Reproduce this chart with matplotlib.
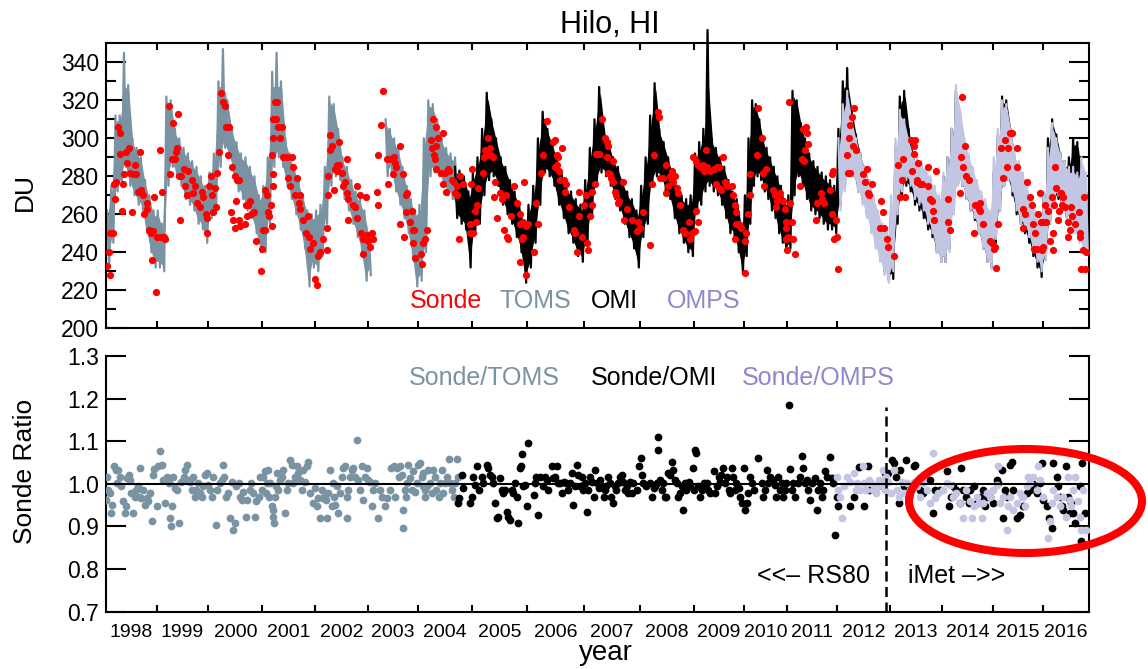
import numpy as np
import matplotlib
matplotlib.use("Agg")
import matplotlib.pyplot as plt
from matplotlib.patches import Ellipse

plt.rcParams['font.family'] = ['Liberation Sans', 'DejaVu Sans']

# ---------------- axis calibration (year boundaries -> relative axis position) ----
YEAR_EDGES = [1998, 1999, 2000, 2001, 2002, 2003, 2004, 2005, 2006, 2007, 2008,
              2009, 2010, 2011, 2012, 2013, 2014, 2015, 2016, 2016.92]
EDGE_POS = [106, 156.7, 208.3, 262.3, 315, 367.7, 418.3, 471.7, 527.3, 584, 640,
            694, 744, 787.3, 837.3, 890, 942.3, 992.7, 1042.7, 1089]
YEARS = list(range(1998, 2017))

# ---------------- satellite total column ozone (monthly high / low envelope) -----
nan = float('nan')
TOMS_START = 1998.0
toms_hi = [262, 275, 312, 312, 345, 328, 300, 295, 290, 278, 270, 262,
           262, 255, 322, 320, 305, 300, 295, 292, 288, 285, 280, 275,
           282, 292, 330, 347, 320, 305, 298, 292, 290, 285, 280, 270,
           275, 290, 335, 345, 330, 300, 292, 285, 278, 270, 262, 260,
           262, 265, 285, 322, 318, 305, 290, 285, 278, 272, 268, 262,
           250, nan, nan, nan, 310, 305, 300, 295, 285, 275, 268, 262,
           265, 300, 320, 318, 310, 300, 295, 292, 290]
toms_lo = [232, 245, 272, 275, 285, 275, 270, 265, 262, 250, 240, 232,
           232, 230, 275, 285, 280, 275, 268, 265, 262, 255, 252, 245,
           258, 262, 285, 295, 290, 282, 272, 268, 262, 258, 250, 240,
           240, 255, 285, 290, 285, 275, 268, 260, 252, 242, 222, 232,
           230, 238, 255, 275, 280, 278, 268, 262, 255, 248, 240, 225,
           228, nan, nan, nan, 280, 282, 272, 265, 258, 250, 238, 222,
           225, 240, 280, 282, 280, 275, 270, 268, 262]

OMI_START = 2004 + 8 / 12
omi_hi = [285, 283, 280, 272,
          282, 290, 305, 324, 310, 300, 290, 285, 278, 272, 265, 255,
          265, 275, 300, 314, 305, 298, 290, 282, 275, 272, 268, 265,
          278, 295, 310, 327, 305, 298, 290, 285, 278, 272, 268, 262,
          275, 290, 312, 329, 305, 298, 290, 282, 275, 270, 268, 270,
          292, 298, 305, 357, 300, 295, 290, 285, 278, 272, 268, 255,
          270, 300, 320, 318, 310, 300, 295, 290, 285, 280, 275, 268,
          270, 325, 320, 308, 300, 292, 288, 285, 282, 280, 278, 275,
          305, 330, 337, 315, 302, 292, 285, 278, 268, 260, 252, 250,
          262, 295, 322, 325, 305, 292, 288, 286, 282, 278, 272, 268,
          280, 290, 305, 325, 312, 298, 290, 284, 276, 270, 265, 258,
          282, 302, 322, 320, 305, 290, 282, 276, 270, 266, 260, 255,
          270, 300, 310, 302, 292, 288, 290, 300, 298, 280, 275]
omi_lo = [258, 255, 252, 232,
          250, 255, 270, 278, 280, 275, 265, 260, 255, 248, 240, 224,
          232, 245, 265, 282, 280, 275, 265, 258, 250, 245, 238, 235,
          245, 260, 275, 282, 280, 275, 268, 262, 255, 248, 242, 232,
          248, 255, 275, 280, 278, 272, 268, 258, 250, 245, 240, 238,
          262, 265, 272, 275, 272, 270, 265, 258, 250, 248, 240, 229,
          238, 255, 275, 280, 278, 272, 268, 262, 258, 250, 245, 240,
          242, 270, 280, 275, 268, 262, 260, 258, 255, 252, 252, 250,
          265, 275, 282, 280, 272, 268, 260, 252, 245, 238, 230, 225,
          226, 255, 270, 275, 272, 265, 262, 258, 252, 248, 240, 235,
          235, 242, 262, 276, 275, 268, 262, 257, 250, 242, 235, 232,
          245, 262, 275, 278, 270, 260, 255, 250, 245, 238, 232, 227,
          236, 255, 265, 268, 262, 258, 255, 255, 250, 245, 245]

OMPS_START = 2012.0
omps_hi = [300, 318, 325, 310, 300, 292, 285, 278, 270, 262, 255, 252,
           270, 300, 315, 310, 300, 292, 290, 288, 285, 280, 275, 270,
           282, 290, 305, 328, 315, 300, 292, 285, 278, 272, 268, 262,
           290, 305, 320, 318, 305, 292, 288, 282, 275, 268, 262, 258,
           272, 295, 308, 300, 292, 288, 285, 285, 282, 290, 282]
omps_lo = [262, 272, 280, 280, 272, 265, 258, 250, 242, 235, 228, 224,
           230, 260, 272, 278, 275, 268, 265, 262, 255, 250, 240, 235,
           235, 240, 260, 275, 275, 268, 262, 258, 250, 242, 235, 231,
           247, 262, 275, 278, 272, 262, 255, 252, 248, 240, 235, 230,
           236, 255, 265, 270, 262, 258, 255, 250, 245, 240, 240]

# ---------------- ozonesonde total column (year, DU) ------------------------------
sonde_points = [
    (1998.01, 233), (1998.08, 228), (1998.05, 240), (1998.07, 250), (1998.13, 250), (1998.17, 268),
    (1998.15, 276), (1998.20, 277), (1998.23, 306), (1998.27, 303), (1998.28, 292), (1998.32, 262),
    (1998.33, 276), (1998.35, 281), (1998.39, 293), (1998.41, 287), (1998.45, 295), (1998.48, 282),
    (1998.52, 261), (1998.53, 281), (1998.57, 286), (1998.60, 281), (1998.63, 272), (1998.68, 293),
    (1998.70, 273), (1998.73, 270), (1998.75, 260), (1998.80, 266), (1998.81, 263), (1998.85, 252),
    (1998.88, 250), (1998.90, 236), (1998.92, 251), (1998.95, 269), (1998.99, 219), (1999.00, 248),
    (1999.06, 294), (1999.08, 248), (1999.10, 272), (1999.14, 248), (1999.16, 247), (1999.23, 317),
    (1999.26, 281), (1999.29, 289), (1999.31, 308), (1999.35, 289), (1999.37, 293), (1999.39, 295),
    (1999.42, 313), (1999.44, 280), (1999.45, 257), (1999.48, 280), (1999.53, 284), (1999.55, 275),
    (1999.58, 270), (1999.61, 283), (1999.69, 278), (1999.71, 271), (1999.74, 275), (1999.79, 266),
    (1999.84, 264), (1999.87, 272), (1999.90, 269), (1999.95, 260), (1999.97, 250), (1999.98, 258),
    (2000.02, 275), (2000.05, 280), (2000.07, 270), (2000.09, 261), (2000.12, 274), (2000.14, 264),
    (2000.17, 282), (2000.19, 293), (2000.23, 324), (2000.27, 319), (2000.31, 317), (2000.33, 306),
    (2000.39, 306), (2000.37, 291), (2000.44, 285), (2000.49, 280), (2000.53, 278), (2000.56, 278),
    (2000.51, 267), (2000.42, 261), (2000.46, 257), (2000.49, 253), (2000.57, 257), (2000.59, 254),
    (2000.68, 255), (2000.71, 259), (2000.70, 265), (2000.74, 265), (2000.77, 267), (2000.80, 260),
    (2000.85, 261), (2000.89, 246), (2000.99, 242), (2000.97, 230),
    (2001.02, 252), (2001.05, 252), (2001.05, 273), (2001.08, 270), (2001.11, 261), (2001.13, 259),
    (2001.16, 265), (2001.18, 254), (2001.18, 291), (2001.20, 281), (2001.21, 275), (2001.20, 300),
    (2001.21, 310), (2001.24, 319), (2001.26, 310), (2001.27, 319), (2001.30, 306), (2001.34, 300),
    (2001.37, 306), (2001.40, 290), (2001.47, 290), (2001.56, 290), (2001.48, 279), (2001.52, 275),
    (2001.58, 285), (2001.65, 279), (2001.62, 270), (2001.70, 266), (2001.72, 263), (2001.71, 270),
    (2001.78, 257), (2001.83, 250), (2001.87, 259), (2001.89, 248), (2001.91, 242), (2001.97, 245),
    (2002.00, 226), (2002.03, 223),
    (2002.06, 238), (2002.09, 240), (2002.15, 247), (2002.23, 241), (2002.22, 253), (2002.25, 270),
    (2002.25, 280), (2002.28, 294), (2002.28, 302), (2002.32, 296), (2002.36, 273), (2002.38, 284),
    (2002.41, 286), (2002.42, 283), (2002.46, 298), (2002.46, 286), (2002.51, 282), (2002.54, 275),
    (2002.57, 277), (2002.60, 271), (2002.60, 289), (2002.62, 268), (2002.63, 257), (2002.73, 265),
    (2002.76, 264), (2002.79, 258), (2002.80, 275), (2002.85, 270), (2002.87, 250), (2002.92, 247),
    (2002.92, 239), (2002.96, 269), (2002.98, 249), (2003.01, 246), (2003.08, 250), (2003.10, 247),
    (2003.05, 243),
    (2003.18, 272), (2003.21, 265), (2003.20, 291), (2003.26, 307), (2003.30, 325), (2003.39, 289),
    (2003.41, 276), (2003.46, 289), (2003.51, 290), (2003.50, 281), (2003.54, 287), (2003.56, 285),
    (2003.63, 296), (2003.64, 255), (2003.70, 281), (2003.72, 248), (2003.76, 270), (2003.78, 271),
    (2003.76, 261), (2003.84, 256), (2003.87, 262), (2003.89, 252), (2003.92, 252), (2003.90, 245),
    (2003.93, 237),
    (2004.05, 239), (2004.06, 234), (2004.09, 245), (2004.13, 247), (2004.16, 252), (2004.23, 299),
    (2004.25, 295), (2004.28, 310), (2004.29, 291), (2004.31, 289), (2004.33, 306), (2004.33, 296),
    (2004.34, 284), (2004.37, 300), (2004.42, 282), (2004.46, 303), (2004.46, 276), (2004.50, 282),
    (2004.52, 272), (2004.55, 284), (2004.58, 283), (2004.63, 278), (2004.66, 277), (2004.69, 271),
    (2004.72, 270), (2004.73, 275), (2004.77, 247), (2004.79, 280), (2004.83, 276), (2004.96, 255),
    (2004.97, 250), (2004.98, 276), (2005.00, 284),
    (2005.03, 250), (2005.06, 262), (2005.08, 256), (2005.10, 265), (2005.12, 274), (2005.20, 282),
    (2005.22, 290), (2005.24, 294), (2005.27, 291), (2005.30, 300), (2005.33, 295), (2005.34, 291),
    (2005.38, 290), (2005.42, 277), (2005.40, 269), (2005.46, 258), (2005.50, 271), (2005.54, 268),
    (2005.58, 252), (2005.62, 270), (2005.63, 248), (2005.66, 247), (2005.70, 259), (2005.76, 275),
    (2005.82, 266), (2005.86, 260), (2005.87, 255), (2005.93, 256), (2005.92, 248), (2005.90, 247),
    (2005.94, 277), (2005.98, 254), (2006.01, 255), (2005.87, 235), (2005.98, 228), (2006.11, 240),
    (2006.16, 266), (2006.19, 255), (2006.25, 282), (2006.27, 291), (2006.34, 309), (2006.45, 298),
    (2006.49, 299), (2006.52, 291), (2006.53, 286), (2006.49, 285), (2006.55, 290), (2006.56, 283),
    (2006.58, 278), (2006.61, 295), (2006.64, 278), (2006.66, 272), (2006.69, 276), (2006.74, 264),
    (2006.82, 252), (2006.84, 250), (2006.87, 240), (2006.91, 272), (2006.92, 259), (2006.96, 248),
    (2007.00, 265), (2007.04, 270), (2007.08, 241), (2007.06, 245),
    (2007.11, 259), (2007.14, 272), (2007.15, 265), (2007.20, 276), (2007.21, 292), (2007.26, 292),
    (2007.27, 292), (2007.32, 310), (2007.38, 300), (2007.41, 298), (2007.43, 296), (2007.41, 290),
    (2007.43, 282), (2007.46, 281), (2007.51, 288), (2007.49, 279), (2007.55, 272), (2007.52, 277),
    (2007.58, 270), (2007.60, 266), (2007.63, 267), (2007.69, 277), (2007.76, 263), (2007.71, 257),
    (2007.85, 257), (2007.94, 251), (2007.97, 256), (2008.00, 253), (2008.05, 261), (2008.18, 244),
    (2008.22, 276), (2008.26, 291), (2008.34, 314), (2008.36, 311), (2008.37, 279), (2008.43, 279),
    (2008.48, 286), (2008.49, 271), (2008.52, 275), (2008.56, 280), (2008.59, 278), (2008.62, 277),
    (2008.65, 280), (2008.60, 283), (2008.68, 274), (2008.71, 271), (2008.74, 265), (2008.80, 252),
    (2008.83, 250), (2008.91, 256), (2008.93, 247), (2008.96, 250), (2009.02, 251), (2009.05, 262),
    (2009.08, 256), (2008.99, 290),
    (2009.04, 288), (2009.09, 286), (2009.12, 285), (2009.17, 286), (2009.20, 283), (2009.24, 294),
    (2009.27, 285), (2009.32, 283), (2009.40, 284), (2009.45, 285), (2009.49, 285), (2009.44, 276),
    (2009.51, 274), (2009.55, 273), (2009.59, 290), (2009.62, 277), (2009.65, 275), (2009.75, 275),
    (2009.79, 270), (2009.82, 265), (2009.84, 261), (2009.85, 255), (2009.89, 255), (2009.91, 254),
    (2009.93, 253), (2009.82, 247), (2010.02, 246), (2010.04, 250), (2010.02, 229), (2010.09, 260),
    (2010.15, 270), (2010.15, 281), (2010.31, 291), (2010.33, 316),
    (2010.41, 300), (2010.45, 282), (2010.46, 275), (2010.51, 284), (2010.68, 273), (2010.72, 270),
    (2010.74, 264), (2010.77, 267), (2010.82, 268), (2010.83, 271), (2010.91, 267), (2010.95, 263),
    (2010.97, 256), (2010.98, 253), (2011.02, 248), (2011.05, 266), (2011.09, 256), (2010.98, 247),
    (2011.00, 241), (2011.04, 319), (2011.11, 247), (2011.15, 239),
    (2011.25, 275), (2011.29, 289), (2011.33, 288), (2011.35, 294), (2011.32, 305), (2011.37, 306),
    (2011.40, 303), (2011.42, 297), (2011.59, 266), (2011.67, 271), (2011.69, 268), (2011.73, 266),
    (2011.85, 273), (2011.89, 281), (2011.91, 283), (2011.89, 260), (2011.57, 257), (2011.97, 257),
    (2011.93, 247), (2011.99, 248), (2012.02, 231),
    (2012.18, 291), (2012.21, 282), (2012.23, 300), (2012.25, 307), (2012.27, 311), (2012.32, 316),
    (2012.29, 296), (2012.35, 294), (2012.24, 282), (2012.49, 281), (2012.53, 277), (2012.56, 284),
    (2012.58, 271), (2012.61, 270), (2012.65, 276), (2012.83, 267), (2012.86, 261), (2012.81, 253),
    (2012.89, 253), (2012.94, 247), (2012.96, 243), (2013.08, 238),
    (2013.16, 286), (2013.19, 269), (2013.22, 278), (2013.24, 289), (2013.29, 269), (2013.41, 299),
    (2013.45, 296), (2013.48, 299), (2013.46, 292), (2013.43, 283), (2013.51, 278), (2013.54, 287),
    (2013.52, 277), (2013.57, 276), (2013.62, 276), (2013.73, 285), (2013.73, 275), (2013.76, 268),
    (2013.80, 267), (2013.82, 262), (2013.84, 257), (2013.87, 283), (2014.12, 268), (2014.12, 256),
    (2014.15, 252),
    (2014.35, 271), (2014.37, 290), (2014.40, 322), (2014.42, 285), (2014.45, 296), (2014.48, 280),
    (2014.52, 278), (2014.65, 265), (2014.68, 265), (2014.72, 263), (2014.75, 262), (2014.74, 266),
    (2014.80, 255), (2014.63, 250), (2014.95, 246), (2014.98, 245), (2015.05, 243), (2015.03, 242),
    (2015.07, 232), (2015.11, 255),
    (2015.16, 295), (2015.21, 279), (2015.25, 299), (2015.28, 285), (2015.31, 295), (2015.35, 303),
    (2015.38, 303), (2015.48, 295), (2015.49, 285), (2015.69, 277), (2015.75, 269), (2015.78, 265),
    (2015.60, 263), (2015.65, 260), (2015.61, 253), (2015.80, 255), (2015.85, 250), (2015.83, 242),
    (2015.89, 242), (2015.91, 260), (2015.95, 271), (2015.96, 256), (2015.98, 241), (2016.00, 256),
    (2016.01, 243),
    (2016.05, 265), (2016.07, 256), (2016.11, 262), (2016.14, 246), (2016.18, 269), (2016.20, 241),
    (2016.21, 250), (2016.22, 265), (2016.24, 285), (2016.26, 274), (2016.30, 257), (2016.33, 262),
    (2016.37, 271), (2016.39, 265), (2016.41, 269), (2016.44, 264), (2016.50, 256), (2016.50, 248),
    (2016.55, 252), (2016.57, 264), (2016.59, 259), (2016.64, 255), (2016.72, 261), (2016.74, 250),
    (2016.75, 248), (2016.80, 241), (2016.82, 269), (2016.77, 231), (2016.84, 231), (2016.87, 240),
]

# ---------------- sonde / satellite ratios (year, ratio) -------------------------
ratio_toms = [
    (1998.00, .962), (1998.01, 1.017), (1998.03, .986), (1998.07, .978), (1998.10, .931), (1998.12, .951),
    (1998.15, 1.041), (1998.19, 1.033), (1998.23, 1.033), (1998.21, 1.002), (1998.27, 1.017), (1998.30, .994),
    (1998.33, .959), (1998.37, .931), (1998.39, .947), (1998.41, 1.013), (1998.45, 1.021), (1998.48, 1.009),
    (1998.50, .978), (1998.53, .931), (1998.57, .970), (1998.60, .986), (1998.63, .994), (1998.67, 1.037),
    (1998.65, .970), (1998.70, .966), (1998.73, .986), (1998.77, .951), (1998.80, .966), (1998.83, .959),
    (1998.87, .978), (1998.90, .912), (1998.92, 1.021), (1998.95, 1.034), (1999.00, .947),
    (1999.03, 1.041), (1999.06, 1.076), (1999.10, 1.045), (1999.13, 1.009), (1999.16, .955), (1999.19, 1.017),
    (1999.23, 1.002), (1999.26, .919), (1999.27, .900), (1999.29, .947), (1999.32, 1.017), (1999.35, .990),
    (1999.39, .986), (1999.44, .908), (1999.48, 1.005), (1999.52, 1.017), (1999.55, 1.033), (1999.59, 1.045),
    (1999.61, 1.009), (1999.65, 1.005), (1999.68, .986), (1999.71, 1.017), (1999.74, .970), (1999.77, .986),
    (1999.81, 1.002), (1999.84, .978), (1999.87, .970), (1999.90, .994), (1999.94, 1.021), (1999.97, 1.025),
    (2000.00, .998), (2000.03, .986), (2000.06, .970), (2000.09, 1.017), (2000.14, .904), (2000.17, .986),
    (2000.22, 1.002), (2000.25, 1.009), (2000.28, 1.045), (2000.29, 1.017), (2000.33, .970), (2000.37, .978),
    (2000.40, .919), (2000.43, 1.005), (2000.46, .892), (2000.49, .908), (2000.52, .994), (2000.56, 1.002),
    (2000.59, .970), (2000.62, .962), (2000.65, .982), (2000.70, .923), (2000.72, .962), (2000.77, .986),
    (2000.80, 1.002), (2000.83, .978), (2000.86, .923), (2000.89, .959), (2000.93, .970), (2000.96, 1.017),
    (2000.99, .986),
    (2001.02, 1.017), (2001.05, 1.029), (2001.07, .978), (2001.08, 1.002), (2001.11, 1.033), (2001.13, .970),
    (2001.15, 1.002), (2001.18, .947), (2001.20, .939), (2001.21, .923), (2001.22, .908), (2001.24, .970),
    (2001.26, .994), (2001.27, 1.025), (2001.30, .986), (2001.34, 1.009), (2001.37, 1.017), (2001.40, 1.033),
    (2001.43, .931), (2001.46, .986), (2001.49, 1.002), (2001.53, 1.056), (2001.56, 1.045), (2001.59, 1.002),
    (2001.62, 1.017), (2001.65, 1.041), (2001.68, 1.025), (2001.72, 1.009), (2001.75, .986), (2001.78, 1.033),
    (2001.81, 1.005), (2001.84, 1.041), (2001.87, 1.052), (2001.91, .978), (2001.97, .955),
    (2002.00, .990), (2002.03, .947), (2002.06, .966), (2002.09, .919), (2002.13, .986), (2002.15, .966),
    (2002.17, .970), (2002.21, .962), (2002.22, .919), (2002.25, .978), (2002.28, 1.033), (2002.32, .947),
    (2002.35, 1.002), (2002.36, .970), (2002.38, .951), (2002.41, .994), (2002.44, .931), (2002.47, .978),
    (2002.51, 1.017), (2002.54, 1.037), (2002.57, 1.041), (2002.60, .919), (2002.61, .970), (2002.63, .986),
    (2002.66, 1.017), (2002.70, 1.033), (2002.73, 1.037), (2002.76, 1.017), (2002.79, 1.102), (2002.82, 1.009),
    (2002.85, .986), (2002.89, 1.041), (2002.92, .962), (2002.95, 1.017), (2002.98, 1.037),
    (2003.01, 1.009), (2003.05, 1.005), (2003.08, .947), (2003.11, .986), (2003.14, 1.002), (2003.21, .919),
    (2003.24, .986), (2003.28, .970), (2003.34, .947), (2003.38, .966), (2003.44, .986), (2003.47, 1.037),
    (2003.51, 1.041), (2003.54, .970), (2003.57, 1.037), (2003.61, 1.017), (2003.64, 1.041), (2003.67, 1.021),
    (2003.69, .939), (2003.70, .896), (2003.74, .986), (2003.76, .970), (2003.77, 1.002), (2003.80, 1.045),
    (2003.84, 1.013), (2003.87, .986), (2003.90, 1.029), (2003.93, .982), (2003.97, 1.002), (2004.00, 1.045),
    (2004.03, 1.049), (2004.06, 1.017), (2004.09, .994), (2004.13, .986),
    (2004.09, 1.025), (2004.13, .970), (2004.16, .994), (2004.19, 1.033), (2004.22, 1.002), (2004.25, .978),
    (2004.28, 1.033), (2004.31, 1.017), (2004.34, .986), (2004.38, .970), (2004.41, 1.002), (2004.44, 1.033),
    (2004.47, .978), (2004.50, 1.002), (2004.53, 1.017), (2004.58, 1.058), (2004.59, 1.002), (2004.63, .986),
    (2004.66, .970), (2004.69, 1.002), (2004.73, 1.058), (2004.75, 1.017),
]

ratio_omi = [
    (2004.75, .955), (2004.77, .966), (2004.81, 1.021), (2004.84, .990), (2004.96, .955), (2005.00, .970),
    (2005.03, 1.017), (2005.06, .998), (2005.09, 1.041), (2005.14, .986), (2005.18, 1.017), (2005.21, 1.002),
    (2005.27, 1.045), (2005.30, 1.037), (2005.33, 1.021), (2005.36, 1.017), (2005.39, 1.002), (2005.42, .955),
    (2005.45, .919), (2005.48, .923), (2005.51, 1.013), (2005.54, .986), (2005.57, .978), (2005.60, .986),
    (2005.63, .935), (2005.66, .923), (2005.69, .915), (2005.72, .986), (2005.75, .978), (2005.78, 1.002),
    (2005.81, .970), (2005.84, .908), (2005.86, 1.037), (2005.88, 1.041), (2005.90, 1.070), (2005.93, .994),
    (2005.96, .998), (2005.99, .947), (2006.02, 1.095), (2006.11, .974), (2006.14, 1.002), (2006.16, 1.017),
    (2006.19, .927), (2006.22, 1.017), (2006.28, .994), (2006.31, 1.017), (2006.34, 1.009), (2006.37, .986),
    (2006.43, 1.041), (2006.46, 1.013), (2006.49, 1.017), (2006.52, 1.041), (2006.55, 1.002), (2006.58, 1.002),
    (2006.61, .978), (2006.64, 1.005), (2006.69, 1.002), (2006.72, .986), (2006.75, 1.002), (2006.78, 1.025),
    (2006.81, .951), (2006.84, .994), (2006.87, 1.045), (2006.90, 1.021), (2006.93, .994), (2006.96, 1.017),
    (2006.99, .986), (2007.02, 1.002), (2007.05, .935), (2007.08, .986), (2007.11, 1.017), (2007.14, 1.005),
    (2007.17, .970), (2007.20, 1.033), (2007.23, 1.002), (2007.26, .990), (2007.29, 1.009), (2007.32, .994),
    (2007.35, .970), (2007.38, .986), (2007.40, .994), (2007.43, 1.017), (2007.46, 1.002), (2007.49, .970),
    (2007.52, .955), (2007.55, .994), (2007.58, .986), (2007.61, 1.002), (2007.64, 1.017), (2007.67, 1.021),
    (2007.70, 1.005), (2007.73, .986), (2007.76, .994), (2007.79, .978), (2007.82, 1.005), (2007.85, .978),
    (2007.88, 1.002), (2007.94, .986), (2007.99, 1.041), (2008.01, 1.060), (2008.03, 1.021), (2008.06, 1.002),
    (2008.12, .994), (2008.19, 1.002), (2008.22, .970), (2008.25, .990), (2008.28, .994), (2008.31, 1.002),
    (2008.34, 1.110), (2008.34, 1.080), (2008.37, 1.009), (2008.40, .986), (2008.43, 1.002), (2008.46, .970),
    (2008.49, .970), (2008.52, 1.025), (2008.56, 1.021), (2008.59, 1.052), (2008.62, 1.033), (2008.65, 1.009),
    (2008.68, 1.002), (2008.71, .970), (2008.74, .978), (2008.77, .994), (2008.80, .939), (2008.83, 1.002),
    (2008.86, .986), (2008.90, 1.005), (2008.93, .994), (2008.98, 1.037), (2009.00, .986), (2009.02, 1.080),
    (2009.04, 1.072), (2009.09, .994), (2009.12, .970), (2009.15, .986), (2009.19, 1.002), (2009.22, .994),
    (2009.25, 1.002), (2009.29, .986), (2009.32, .978), (2009.39, 1.029), (2009.42, .978), (2009.45, .994),
    (2009.49, 1.017), (2009.52, 1.005), (2009.55, 1.021), (2009.59, 1.037), (2009.62, 1.002), (2009.65, 1.017),
    (2009.69, .986), (2009.72, .978), (2009.75, 1.037), (2009.79, 1.017), (2009.82, .986), (2009.85, 1.002),
    (2009.89, .990), (2009.92, .970), (2009.95, .955), (2009.99, 1.037), (2010.02, .939), (2010.06, .955),
    (2010.10, .978), (2010.14, 1.017), (2010.18, 1.002), (2010.22, .986), (2010.33, 1.060),
    (2010.41, 1.002), (2010.45, .970), (2010.48, .986), (2010.52, 1.033), (2010.56, 1.002), (2010.60, 1.017),
    (2010.68, 1.009), (2010.71, .998), (2010.75, .970), (2010.79, 1.017), (2010.83, .986), (2010.87, 1.002),
    (2010.91, .970), (2010.95, .986), (2010.98, 1.002), (2011.04, 1.185), (2011.05, 1.034), (2011.09, .986),
    (2011.12, 1.002), (2011.15, .970), (2011.22, 1.002), (2011.25, 1.017), (2011.29, 1.066), (2011.32, 1.037),
    (2011.35, 1.002), (2011.39, 1.009), (2011.42, .986), (2011.45, .962), (2011.49, 1.002), (2011.55, 1.013),
    (2011.59, .939), (2011.62, .986), (2011.65, 1.002), (2011.69, .970), (2011.72, .986), (2011.75, 1.029),
    (2011.79, 1.017), (2011.85, 1.064), (2011.89, 1.013), (2011.92, 1.002), (2011.95, .880), (2011.99, .970),
    (2012.02, .947), (2012.25, .948), (2012.31, .970), (2012.41, 1.039), (2012.51, .947), (2012.58, 1.041),
    (2012.61, .986), (2012.77, .994), (2012.84, 1.005), (2012.90, 1.025), (2012.96, 1.025), (2013.04, 1.056),
    (2013.08, 1.049), (2013.11, 1.017), (2013.17, .955), (2013.20, 1.033), (2013.26, .994), (2013.30, 1.056),
    (2013.33, .994), (2013.36, .970), (2013.39, .986), (2013.45, 1.041), (2013.48, 1.045), (2013.58, .986),
    (2013.64, .978), (2013.82, .931), (2013.86, .986), (2014.09, 1.029), (2014.14, .948), (2014.18, .970),
    (2014.35, .955), (2014.38, 1.037), (2014.42, .986), (2014.52, .955), (2014.55, .986), (2014.68, .955),
    (2014.75, .970), (2014.85, .947), (2014.95, .970), (2015.08, 1.009), (2015.11, 1.002), (2015.18, 1.033),
    (2015.21, .919), (2015.35, 1.045), (2015.38, 1.052), (2015.48, .919), (2015.55, .927), (2015.61, .947),
    (2015.75, .986), (2015.81, .994), (2015.88, .978), (2015.98, 1.049), (2016.08, .947), (2016.18, .896),
    (2016.21, 1.049), (2016.31, .994), (2016.38, .947), (2016.41, .939), (2016.47, 1.041), (2016.54, .931),
    (2016.61, .931), (2016.64, .908), (2016.74, .994), (2016.77, .865), (2016.79, 1.049), (2016.84, .931),
    (2013.52, 1.002), (2013.77, 1.009), (2013.96, .986), (2014.22, .994), (2014.28, .986), (2014.48, .970),
    (2014.62, .994), (2014.81, .986), (2014.88, .970), (2015.01, .955), (2015.25, .986), (2015.28, .970),
    (2015.41, .986), (2015.68, .978), (2015.78, 1.002), (2015.95, 1.002), (2016.01, .962), (2016.13, .919),
    (2016.28, 1.017), (2016.34, .970), (2016.51, .970), (2016.57, .955),
]

ratio_omps = [
    (2011.99, 1.017), (2012.02, .986), (2012.05, .970), (2012.08, .919), (2012.12, .994), (2012.18, 1.017),
    (2012.25, 1.005), (2012.31, 1.025), (2012.35, .986), (2012.38, 1.002), (2012.44, .986), (2012.48, 1.041),
    (2012.51, 1.002), (2012.54, .986), (2012.61, 1.009), (2012.64, 1.002), (2012.67, .986), (2012.74, .978),
    (2012.80, 1.009), (2012.87, 1.033), (2012.93, 1.017), (2012.96, 1.005), (2013.01, .978), (2013.14, .986),
    (2013.23, 1.005), (2013.26, .978), (2013.33, 1.002), (2013.45, 1.005), (2013.52, .994), (2013.58, .970),
    (2013.70, .986), (2013.77, .955), (2013.83, 1.072), (2013.92, .978), (2014.02, .986), (2014.15, .998),
    (2014.22, .970), (2014.28, .978), (2014.42, .919), (2014.48, .986), (2014.58, .919), (2014.62, .947),
    (2014.72, .955), (2014.78, .919), (2014.81, .955), (2014.88, .978), (2015.01, .986), (2015.11, 1.041),
    (2015.15, .955), (2015.28, .892), (2015.31, .947), (2015.41, .939), (2015.48, .955), (2015.58, .970),
    (2015.65, .947), (2015.71, 1.017), (2015.81, 1.017), (2015.91, 1.041), (2016.01, .970), (2016.11, .872),
    (2016.14, .912), (2016.28, .970), (2016.34, .947), (2016.51, 1.017), (2016.57, .947), (2016.64, 1.017),
    (2016.74, .923), (2016.77, .892), (2016.80, .986), (2016.86, .892),
    (2012.77, .994), (2012.84, 1.002), (2012.90, .986), (2013.08, 1.033), (2013.17, .970), (2013.39, .986),
    (2013.64, 1.002), (2013.86, .966), (2014.09, 1.002), (2014.35, .955), (2014.55, .959), (2014.68, .970),
    (2014.95, .970), (2015.08, .998), (2015.21, .970), (2015.35, .970), (2015.55, .978), (2015.61, .970),
    (2015.68, .994), (2015.75, 1.002), (2015.88, .986), (2015.95, 1.009), (2016.18, .955), (2016.21, .986),
    (2016.41, .970), (2016.47, .923), (2016.54, .962), (2016.61, .986), (2016.71, .959),
]

# ---------------- colours ----------------------------------------------------------
C_SONDE = '#ff0000'
C_TOMS = '#7a93a3'
C_OMI = '#000000'
C_OMPS = '#c3c6e2'
C_OMPS_TEXT = '#8d88cb'

W, H = 1148, 669


def fx(px):
    return px / W


def fy(py):
    return 1 - py / H


def fwd(x):
    return np.interp(np.asarray(x, dtype=float), YEAR_EDGES, EDGE_POS)


def inv(p):
    return np.interp(np.asarray(p, dtype=float), EDGE_POS, YEAR_EDGES)


def zigzag(start, hi, lo):
    xs, ys = [], []
    for i in range(len(hi)):
        xs += [start + (i + 0.25) / 12, start + (i + 0.75) / 12]
        ys += [hi[i], lo[i]]
    return np.array(xs), np.array(ys)


def draw_sat(ax, start, hi, lo, color, z, clip=True):
    hi = np.asarray(hi, dtype=float)
    lo = np.asarray(lo, dtype=float)
    xc = start + (np.arange(len(hi)) + 0.5) / 12
    band_top = np.minimum(hi, 330)
    ax.fill_between(xc, lo + 3, band_top - 3, color=color, lw=0, zorder=z)
    x, y = zigzag(start, hi, lo)
    ax.plot(x, y, color=color, lw=1.6, zorder=z, clip_on=clip)


fig = plt.figure(figsize=(W / 100, H / 100), dpi=100)
ax1 = fig.add_axes([fx(106), fy(328.3), (1089 - 106) / W, (328.3 - 43.3) / H])
ax2 = fig.add_axes([fx(106), fy(611.7), (1089 - 106) / W, (611.7 - 356) / H])

for ax in (ax1, ax2):
    ax.set_xscale('function', functions=(fwd, inv))
    ax.set_xlim(YEAR_EDGES[0], YEAR_EDGES[-1])
    for s in ax.spines.values():
        s.set_linewidth(1.5)

# ---------------- top panel ------------------------------------------------------
draw_sat(ax1, TOMS_START, toms_hi, toms_lo, C_TOMS, 2)
draw_sat(ax1, OMI_START, omi_hi, omi_lo, C_OMI, 3, clip=False)
draw_sat(ax1, OMPS_START, omps_hi, omps_lo, C_OMPS, 4)
sy, sv = zip(*sonde_points)
ax1.plot(sy, sv, 'o', color=C_SONDE, ms=5.2, mec='none', zorder=5)

ax1.set_ylim(200, 350)
ax1.set_yticks(np.arange(200, 341, 20))
ax1.set_yticks(np.arange(210, 341, 20), minor=True)
ax1.tick_params(axis='y', which='major', direction='in', length=14.4, width=1.5,
                left=True, right=True, labelsize=16.5, pad=5)
ax1.tick_params(axis='y', which='minor', direction='in', length=7.2, width=1.5,
                left=True, right=True)
ax1.set_xticks(YEARS[1:])
ax1.set_xticks([], minor=True)
ax1.tick_params(axis='x', which='major', direction='in', length=5, width=1.5,
                top=True, bottom=True, labelbottom=False)

# ---------------- bottom panel ---------------------------------------------------
rx, rv = zip(*ratio_toms)
ax2.plot(rx, rv, 'o', color=C_TOMS, ms=5.6, mec='none', zorder=3)
rx, rv = zip(*ratio_omi)
ax2.plot(rx, rv, 'o', color=C_OMI, ms=5.6, mec='none', zorder=3)
rx, rv = zip(*ratio_omps)
ax2.plot(rx, rv, 'o', color=C_OMPS, ms=5.6, mec='none', zorder=3)
ax2.hlines(1.0, YEAR_EDGES[0], 2016.68, color='k', lw=1.5, zorder=4)
ax2.plot([2012.92, 2012.92], [0.7, 1.18], color='k', lw=1.8,
         ls=(0, (4, 2.2)), zorder=4)

ax2.set_ylim(0.7, 1.3)
ax2.set_yticks(np.round(np.arange(0.7, 1.31, 0.1), 1))
ax2.tick_params(axis='y', which='major', direction='in', length=14.4, width=1.5,
                left=True, right=True, labelsize=16.5, pad=5)
ax2.spines['top'].set_visible(False)
ax2.set_xticks(YEARS[1:])
ax2.set_xticks([y + 0.5 for y in YEARS[:-1]] + [2016.46], minor=True)
ax2.set_xticklabels([str(y) for y in YEARS], minor=True)
ax2.tick_params(axis='x', which='major', direction='in', length=5, width=1.5,
                top=False, bottom=True, labelbottom=False)
ax2.tick_params(axis='x', which='minor', length=0, labelsize=14, pad=9)

# ---------------- texts -----------------------------------------------------------
fig.text(fx(610), fy(33), 'Hilo, HI', fontsize=22, ha='center', va='baseline')
fig.text(fx(25), fy(192), 'DU', fontsize=19, rotation=90, ha='center', va='center')
fig.text(fx(25), fy(471), 'Sonde Ratio', fontsize=19, rotation=90, ha='center', va='center')
fig.text(fx(606), fy(660), 'year', fontsize=20, ha='center', va='baseline')

fig.text(fx(410), fy(308), 'Sonde', color=C_SONDE, fontsize=18, va='baseline')
fig.text(fx(500), fy(308), 'TOMS', color=C_TOMS, fontsize=18, va='baseline')
fig.text(fx(591), fy(308), 'OMI', color=C_OMI, fontsize=18, va='baseline')
fig.text(fx(667), fy(308), 'OMPS', color=C_OMPS_TEXT, fontsize=18, va='baseline')

fig.text(fx(409), fy(385), 'Sonde/TOMS', color=C_TOMS, fontsize=18, va='baseline')
fig.text(fx(591), fy(385), 'Sonde/OMI', color=C_OMI, fontsize=18, va='baseline')
fig.text(fx(742), fy(385), 'Sonde/OMPS', color=C_OMPS_TEXT, fontsize=18, va='baseline')

fig.text(fx(757), fy(583), '<<\u2013 RS80', fontsize=18, va='baseline')
fig.text(fx(908), fy(583), 'iMet \u2013>>', fontsize=18, va='baseline')

# highlight ellipse
fig.add_artist(Ellipse((fx(1025.5), fy(501)), 233 / W, 104 / H,
                       transform=fig.transFigure, fill=False, ec='#ff0000',
                       lw=5.8, zorder=10))

fig.savefig('out.png', dpi=100)
